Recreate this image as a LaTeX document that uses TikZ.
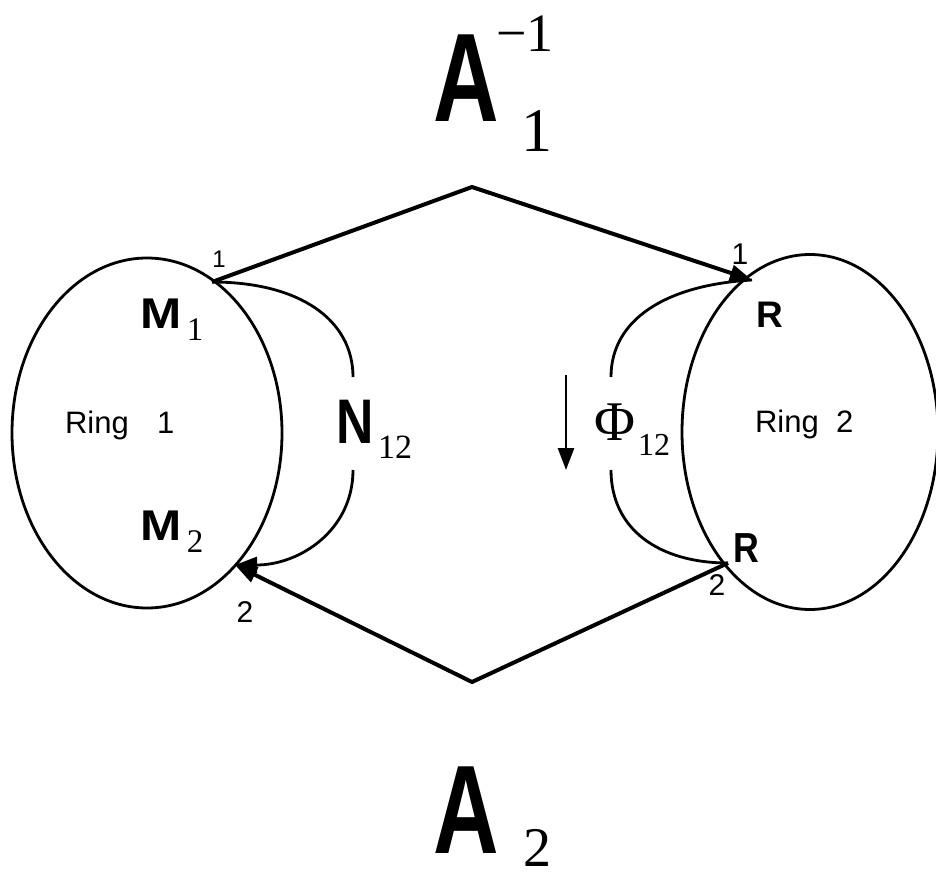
\documentclass[tikz,border=0pt]{standalone}
\usepackage{fontspec}
\setmainfont{Liberation Serif}
\newfontfamily\hv{Liberation Sans}
\usetikzlibrary{arrows.meta,shapes.geometric}
\tikzset{
  x=1pt,y=-1pt,
  txt/.style={inner sep=0pt,outer sep=0pt,anchor=base},
  txtw/.style={inner sep=0pt,outer sep=0pt,anchor=base west},
  ring/.style={draw,ellipse,line width=2.8pt,inner sep=0pt},
  vline/.style={line width=4pt,line join=miter},
  arc/.style={line width=2.8pt},
  tip/.style={-{Triangle[length=22pt,width=16pt]}},
}
\newcommand{\fs}[1]{\fontsize{#1}{#1}\selectfont}
\begin{document}
\begin{tikzpicture}
\useasboundingbox (0,0) rectangle (936,885);
\clip (0,0) rectangle (936,885);
% rings
\node[ring,minimum width=270pt,minimum height=350pt] (ring1) at (147,433) {};
\node[ring,minimum width=256pt,minimum height=355pt] (ring2) at (810,432) {};
% points
\coordinate (L1) at (212,282);
\coordinate (L2) at (235,565);
\coordinate (R1) at (752,280);
\coordinate (R2) at (728,563);
\coordinate (T) at (472,187);
\coordinate (B) at (472,682);
\coordinate (NU) at (353,377);
\coordinate (ND) at (353,470);
\coordinate (FU) at (611,377);
\coordinate (FD) at (611,470);
\coordinate (P1) at (566,375);
\coordinate (P2) at (566,470);
% big V connectors
\draw[vline,tip] (L1) -- (T) -- (R1);
\draw[vline,tip] (R2) -- (B) -- (L2);
% inner arcs
\draw[arc] (L1) .. controls (300,282) and (353,320) .. (NU);
\draw[arc,tip] (ND) .. controls (353,530) and (300,565) .. (L2);
\draw[arc] (R1) .. controls (665,285) and (611,320) .. (FU);
\draw[arc] (FD) .. controls (611,530) and (660,563) .. (R2);
\draw[line width=2.6pt,tip] (P1) -- (P2);
% A labels
\node[txt] (Atop) at (466,122) {\hv\bfseries\fs{126}\scalebox{0.72}[1]{A}};
\node[txtw] (Asup) at (496,52) {\fs{54}−1};
\node[txt] (Asub) at (537,152) {\fs{62}1};
\node[txt] (Abot) at (466,853) {\hv\bfseries\fs{126}\scalebox{0.72}[1]{A}};
\node[txt] (Absub) at (537,866) {\fs{56}2};
% M labels
\node[txt] (M1) at (161,328) {\hv\bfseries\fs{43}\scalebox{1.15}[1]{M}};
\node[txt] (M1s) at (195,340) {\fs{33}1};
\node[txt] (M2) at (161,540) {\hv\bfseries\fs{43}\scalebox{1.15}[1]{M}};
\node[txt] (M2s) at (195,552) {\fs{33}2};
% N and Phi
\node[txt] (N) at (355,443) {\hv\bfseries\fs{63}\scalebox{0.82}[1]{N}};
\node[txt] (Ns) at (395,458) {\fs{34}12};
\node[txt] (Phi) at (615,440) {\fs{56}Φ};
\node[txt] (Phis) at (654,455) {\fs{32}12};
% R labels
\node[txt] (Ra) at (770,327) {\hv\bfseries\fs{37}R};
\node[txt] (Rb) at (746,562) {\hv\bfseries\fs{42}\scalebox{0.85}[1]{R}};
% point numbers
\node[txt] (n1l) at (219,267) {\hv\fs{24}1};
\node[txt] (n2l) at (245,622) {\hv\fs{30}2};
\node[txt] (n1r) at (740,265) {\hv\fs{30}1};
\node[txt] (n2r) at (717,595) {\hv\fs{30}2};
% ring names
\node[txtw] (ring1a) at (65,433) {\hv\fs{31}Ring};
\node[txtw] (ring1b) at (157,433) {\hv\fs{31}1};
\node[txtw] (ring2a) at (755,432) {\hv\fs{31}Ring};
\node[txtw] (ring2b) at (836,432) {\hv\fs{31}2};
\end{tikzpicture}
\end{document}
